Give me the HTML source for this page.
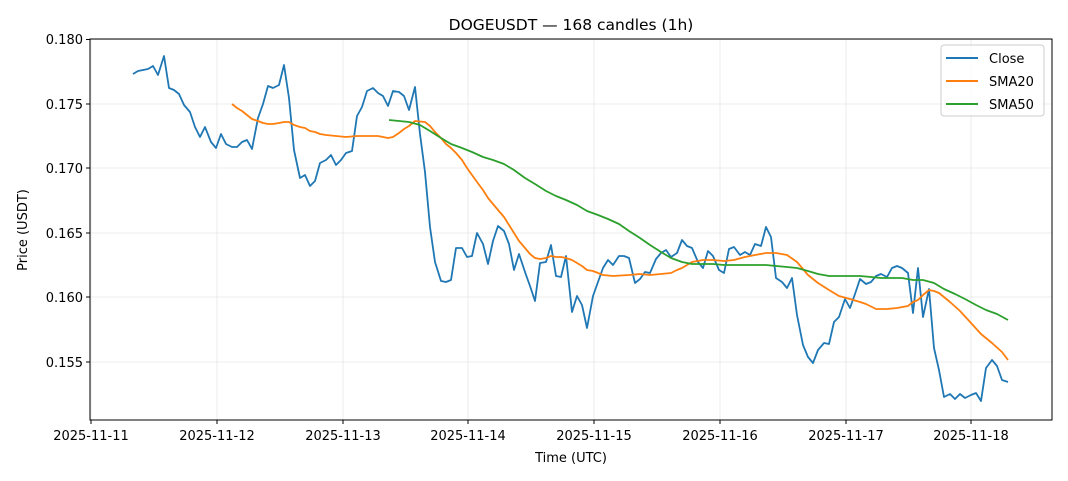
<!DOCTYPE html>
<html><head><meta charset="utf-8"><style>
html,body{margin:0;padding:0;background:#fff;}
svg{display:block;font-family:"DejaVu Sans","Liberation Sans",sans-serif;}
</style></head><body>
<svg width="1068" height="481" viewBox="0 0 1068 481" xmlns="http://www.w3.org/2000/svg">
<rect width="1068" height="481" fill="#fff"/>
<g stroke="#e6e6e6" stroke-width="0.8">
<line x1="91" y1="39" x2="91" y2="420"/><line x1="217" y1="39" x2="217" y2="420"/><line x1="343" y1="39" x2="343" y2="420"/><line x1="468" y1="39" x2="468" y2="420"/><line x1="594" y1="39" x2="594" y2="420"/><line x1="720" y1="39" x2="720" y2="420"/><line x1="846" y1="39" x2="846" y2="420"/><line x1="971" y1="39" x2="971" y2="420"/>
<line x1="90" y1="39.5" x2="1052" y2="39.5"/><line x1="90" y1="104" x2="1052" y2="104"/><line x1="90" y1="168" x2="1052" y2="168"/><line x1="90" y1="233" x2="1052" y2="233"/><line x1="90" y1="297" x2="1052" y2="297"/><line x1="90" y1="362" x2="1052" y2="362"/>
</g>
<polyline fill="none" stroke="#1f77b4" stroke-width="1.8" stroke-linejoin="round" points="133,74 138,71 143,70 148,69 153,66 158,75 164,56 169,88 174,90 179,94 184,105 190,112 195,127 200,137 205,127 211,142 216,148 221,134 226,144 232,147 237,147 242,142 247,140 252,149 258,118 263,104 268,86 273,88 279,85 284,65 289,98 294,150 300,178 305,175 310,186 315,181 320,163 326,160 331,155 336,165 341,160 346,153 352,151 357,116 362,107 367,91 373,88 378,93 383,96 388,106 393,91 399,92 404,96 409,110 415,87 420,134 425,172 430,227 435,262 441,281 446,282 451,280 456,248 462,248 467,257 472,256 477,233 483,244 488,264 493,241 498,226 504,231 509,244 514,270 519,254 525,272 530,286 535,301 540,263 546,262 551,245 556,276 561,277 566,256 572,312 577,296 582,305 587,328 593,296 598,282 603,268 608,260 613,265 619,256 624,256 629,258 635,283 640,279 645,272 650,273 656,259 661,253 666,250 671,257 677,253 682,240 687,246 692,248 698,262 703,268 708,251 713,256 719,270 724,273 729,249 734,247 740,255 745,252 750,255 755,244 761,246 766,227 771,237 776,278 782,282 787,288 792,278 797,315 803,345 808,357 813,363 818,350 824,343 829,344 834,322 839,317 845,299 850,308 855,294 860,279 866,284 871,282 876,276 881,274 887,277 892,268 897,266 902,268 908,273 913,313 918,268 923,317 929,289 934,348 939,370 944,397 950,394 955,399 960,394 965,398 971,395 976,393 981,401 986,368 992,360 997,366 1002,380 1008,382"/>
<polyline fill="none" stroke="#ff7f0e" stroke-width="1.8" stroke-linejoin="round" points="232,104 237,108 242,111 247,115 252,119 258,121 263,123 268,124 273,124 279,123 284,122 289,122 294,125 300,127 305,128 310,131 315,132 320,134 326,135 336,136 346,137 357,136 367,136 378,136 383,137 388,138 393,137 399,133 404,129 409,126 415,121 425,122 430,126 435,132 441,138 446,144 451,148 456,153 462,160 467,168 472,175 477,182 483,190 488,198 493,204 498,210 504,217 509,225 514,233 519,241 525,248 530,254 535,258 540,259 546,258 551,256 556,257 561,257 566,258 572,260 577,263 582,266 587,270 593,271 598,273 603,275 613,276 629,275 640,274 650,275 661,274 671,273 677,270 682,268 692,262 703,260 713,260 724,261 734,260 745,257 755,255 766,253 776,253 787,255 797,262 808,275 818,283 829,290 839,296 850,299 860,302 866,304 876,309 887,309 897,308 908,306 913,302 918,300 923,295 929,290 934,291 939,293 950,302 960,311 971,323 981,334 992,343 1002,352 1008,360"/>
<polyline fill="none" stroke="#2ca02c" stroke-width="1.8" stroke-linejoin="round" points="389,120 399,121 409,122 420,125 430,131 441,138 451,144 462,148 472,152 483,157 493,160 504,164 514,170 525,178 535,184 546,191 556,196 566,200 577,205 587,211 598,215 608,219 619,224 629,231 640,238 650,245 661,252 671,258 682,262 692,264 703,264 713,264 724,265 734,265 745,265 755,265 766,265 776,266 787,267 797,268 808,271 818,274 829,276 839,276 850,276 860,276 871,277 881,278 892,278 902,278 913,280 923,280 934,283 944,289 955,294 965,299 976,305 986,310 997,314 1008,320"/>
<rect x="90" y="39" width="962" height="381" fill="none" stroke="#000" stroke-width="1"/>
<g stroke="#000" stroke-width="1">
<line x1="91" y1="420" x2="91" y2="424"/><line x1="217" y1="420" x2="217" y2="424"/><line x1="343" y1="420" x2="343" y2="424"/><line x1="468" y1="420" x2="468" y2="424"/><line x1="594" y1="420" x2="594" y2="424"/><line x1="720" y1="420" x2="720" y2="424"/><line x1="846" y1="420" x2="846" y2="424"/><line x1="971" y1="420" x2="971" y2="424"/>
<line x1="86" y1="39.5" x2="90" y2="39.5"/><line x1="86" y1="104" x2="90" y2="104"/><line x1="86" y1="168" x2="90" y2="168"/><line x1="86" y1="233" x2="90" y2="233"/><line x1="86" y1="297" x2="90" y2="297"/><line x1="86" y1="362" x2="90" y2="362"/>
</g>
<g font-size="13" fill="#000" text-anchor="middle">
<text x="91" y="440">2025-11-11</text><text x="217" y="440">2025-11-12</text><text x="343" y="440">2025-11-13</text><text x="468" y="440">2025-11-14</text><text x="594" y="440">2025-11-15</text><text x="720" y="440">2025-11-16</text><text x="846" y="440">2025-11-17</text><text x="971" y="440">2025-11-18</text>
<text x="571" y="462">Time (UTC)</text>
<text x="571" y="30" font-size="15.5">DOGEUSDT — 168 candles (1h)</text>
</g>
<g font-size="13" fill="#000" text-anchor="end">
<text x="83" y="44">0.180</text><text x="83" y="109">0.175</text><text x="83" y="173">0.170</text><text x="83" y="238">0.165</text><text x="83" y="302">0.160</text><text x="83" y="367">0.155</text>
</g>
<text x="27" y="230" font-size="13" text-anchor="middle" transform="rotate(-90 27 230)">Price (USDT)</text>
<rect x="941" y="45" width="103" height="71" rx="3" fill="#fff" fill-opacity="0.8" stroke="#ccc"/>
<line x1="946" y1="58" x2="978" y2="58" stroke="#1f77b4" stroke-width="2"/>
<line x1="946" y1="81" x2="978" y2="81" stroke="#ff7f0e" stroke-width="2"/>
<line x1="946" y1="104" x2="978" y2="104" stroke="#2ca02c" stroke-width="2"/>
<g font-size="13" fill="#000"><text x="989" y="63">Close</text><text x="989" y="86">SMA20</text><text x="989" y="109">SMA50</text></g>
</svg>
</body></html>
